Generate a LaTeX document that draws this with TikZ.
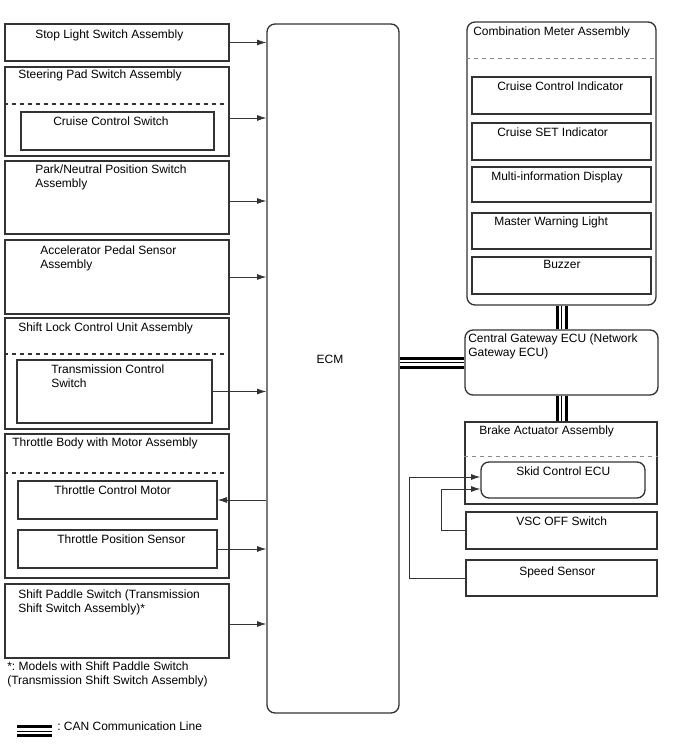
\documentclass[tikz,border=0pt]{standalone}
\usepackage{fontspec}
\setmainfont{Liberation Sans}
\usepackage{xcolor}
\usepackage{tikz}
\usetikzlibrary{positioning, arrows.meta, fit, calc}
\definecolor{edge}{HTML}{333333}
\definecolor{faint}{HTML}{8A8A8A}
\frenchspacing

\begin{document}
\begin{tikzpicture}[
  x=0.75pt, y=-0.75pt,
  every node/.style={font=\fontsize{9}{10.5}\selectfont},
  block/.style={draw=edge, line width=1pt, inner sep=0pt},
  rblock/.style={block, rounded corners=6pt},
  lbl/.style={anchor=north west, inner sep=0pt, align=left},
  divider/.style={draw=edge, dashed, line width=0.8pt},
  gdivider/.style={draw=faint, dashed, line width=0.6pt},
  arrow/.style={-{Latex[length=7pt, width=4.5pt]}, draw=edge, line width=0.6pt},
  link/.style={draw=edge, line width=0.6pt},
  can/.style={draw=black, line width=9pt,
    postaction={draw=white, line width=4.5pt},
    postaction={draw=black, line width=0.75pt}}
]
  \useasboundingbox (0,0) rectangle (688,755);

  % left column
  \node[block, fit={(5,24) (229,61)}] (stop) {};
  \node[lbl] (stop-t) at (35,30) {Stop Light Switch Assembly};

  \node[block, fit={(5,67) (229,156)}] (steer) {};
  \node[lbl] (steer-t) at (18,70) {Steering Pad Switch Assembly};
  \draw[divider] (steer.west |- 0,104) -- (steer.east |- 0,104);
  \node[block, fit={(21,112) (214,150)}] (ccsw) {};
  \node[lbl] (ccsw-t) at (53,117) {Cruise Control Switch};

  \node[block, fit={(5,161) (229,234)}] (pnp) {};
  \node[lbl] (pnp-t) at (35,165) {Park/Neutral Position Switch\\Assembly};

  \node[block, fit={(5,240) (229,314)}] (accel) {};
  \node[lbl] (accel-t) at (40,246) {Accelerator Pedal Sensor\\Assembly};

  \node[block, fit={(5,318) (229,429)}] (slock) {};
  \node[lbl] (slock-t) at (18,323) {Shift Lock Control Unit Assembly};
  \draw[divider] (slock.west |- 0,354) -- (slock.east |- 0,354);
  \node[block, fit={(17,360) (212,423)}] (tcs) {};
  \node[lbl] (tcs-t) at (51,365) {Transmission Control\\Switch};

  \node[block, fit={(5,434) (229,578)}] (thr) {};
  \node[lbl] (thr-t) at (12,438) {Throttle Body with Motor Assembly};
  \draw[divider] (thr.west |- 0,473) -- (thr.east |- 0,473);
  \node[block, fit={(18,481) (217,519)}] (tcm) {};
  \node[lbl] (tcm-t) at (54,486) {Throttle Control Motor};
  \node[block, fit={(18,530) (217,568)}] (tps) {};
  \node[lbl] (tps-t) at (57,535) {Throttle Position Sensor};

  \node[block, fit={(5,584) (229,658)}] (paddle) {};
  \node[lbl] (paddle-t) at (18,590) {Shift Paddle Switch (Transmission\\Shift Switch Assembly)*};
  \node[lbl] (note) at (7,662) {*: Models with Shift Paddle Switch\\(Transmission Shift Switch Assembly)};

  % ECM
  \node[rblock, fit={(267,24) (399,713)}] (ecm) {};
  \node (ecm-t) at (330,359) {ECM};

  % right column
  \node[rblock, fit={(467,22) (656,305)}] (meter) {};
  \node[lbl] (meter-t) at (473,27) {Combination Meter Assembly};
  \draw[gdivider] (meter.west |- 0,58) -- (meter.east |- 0,58);
  \node[block, fit={(472,77) (651,114)}] (cci) {};
  \node[lbl] (cci-t) at (497,82) {Cruise Control Indicator};
  \node[block, fit={(472,123) (651,160)}] (cset) {};
  \node[lbl] (cset-t) at (497,128) {Cruise SET Indicator};
  \node[block, fit={(472,167) (651,202)}] (mid) {};
  \node[lbl] (mid-t) at (491,172) {Multi-information Display};
  \node[block, fit={(472,213) (651,249)}] (mwl) {};
  \node[lbl] (mwl-t) at (494,217) {Master Warning Light};
  \node[block, fit={(472,257) (651,294)}] (buzz) {};
  \node[lbl] (buzz-t) at (543,260) {Buzzer};

  \node[rblock, fit={(465,330) (658,395)}] (gw) {};
  \node[lbl] (gw-t) at (468,334) {Central Gateway ECU (Network\\Gateway ECU)};

  \node[block, fit={(465,422) (657,504)}] (brake) {};
  \node[lbl] (brake-t) at (479,426) {Brake Actuator Assembly};
  \draw[gdivider] (brake.west |- 0,456) -- (brake.east |- 0,456);
  \node[rblock, fit={(481,462) (645,498)}] (skid) {};
  \node[lbl] (skid-t) at (516,467) {Skid Control ECU};

  \node[block, fit={(466,512) (657,549)}] (vsc) {};
  \node[lbl] (vsc-t) at (516,517) {VSC OFF Switch};
  \node[block, fit={(466,560) (657,596)}] (spd) {};
  \node[lbl] (spd-t) at (519,567) {Speed Sensor};

  % signals to and from ECM
  \draw[arrow] (stop) -- (stop -| ecm.west);
  \draw[arrow] (steer.east |- 0,118) -- (ecm.west |- 0,118);
  \draw[arrow] (pnp.east |- 0,201) -- (ecm.west |- 0,201);
  \draw[arrow] (accel) -- (accel -| ecm.west);
  \draw[arrow] (tcs) -- (tcs -| ecm.west);
  \draw[arrow] (ecm.west |- tcm) -- (tcm.east);
  \draw[arrow] (tps) -- (tps -| ecm.west);
  \draw[arrow] (paddle.east |- 0,624) -- (ecm.west |- 0,624);

  % CAN
  \draw[can] (meter.south) -- (meter.south |- gw.north);
  \draw[can] (ecm.east |- gw) -- (gw.west);
  \draw[can] (gw.south) -- (gw.south |- brake.north);

  % skid control inputs
  \coordinate (spdbend) at (409,477);
  \coordinate (vscbend) at (441,489);
  \draw[arrow] (spd.west) -| (spdbend) -- (spdbend -| skid.west);
  \draw[arrow] (vsc.west) -| (vscbend) -- (vscbend -| skid.west);

  % legend
  \coordinate (canleg) at (17,731);
  \node[lbl] (leg) at (57,722) {: CAN Communication Line};
  \draw[can] (canleg) -- ++(35,0);
\end{tikzpicture}
\end{document}
